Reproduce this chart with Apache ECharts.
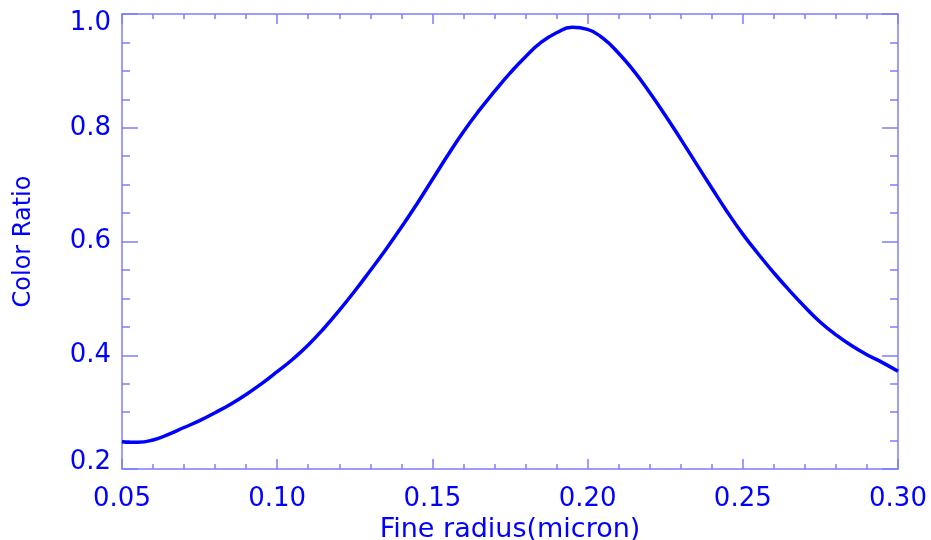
<!DOCTYPE html>
<html>
<head>
<meta charset="utf-8">
<script src="https://cdn.jsdelivr.net/npm/echarts@6/dist/echarts.min.js"></script>
<style>
html,body{margin:0;padding:0;background:#fff;}
#chart{width:931px;height:540px;}
</style>
</head>
<body>
<div id="chart"></div>
<script>
// Fine radius (micron)
var radius = [0.050,0.053,0.055,0.060,0.065,0.070,0.075,0.080,0.085,0.090,0.095,0.100,0.105,0.110,0.115,0.120,0.125,0.130,0.135,0.140,0.145,0.150,0.155,0.160,0.165,0.170,0.175,0.180,0.185,0.190,0.195,0.200,0.205,0.210,0.215,0.220,0.225,0.230,0.235,0.240,0.245,0.250,0.255,0.260,0.265,0.270,0.275,0.280,0.285,0.290,0.295,0.300];
// Color ratio
var colorRatio = [0.248,0.247,0.247,0.251,0.261,0.273,0.285,0.299,0.314,0.331,0.350,0.371,0.393,0.418,0.447,0.479,0.513,0.549,0.586,0.625,0.666,0.709,0.752,0.793,0.830,0.864,0.896,0.925,0.950,0.967,0.9766,0.973,0.957,0.931,0.899,0.862,0.822,0.780,0.737,0.694,0.652,0.613,0.578,0.545,0.514,0.485,0.458,0.436,0.417,0.401,0.387,0.372];
var xTicks = {min:0.05, max:0.30, interval:0.05};
var yTicks = {min:0.2, max:1.0, interval:0.2};
var xName = 'Fine radius(micron)';
var yName = 'Color Ratio';

var axisColor = '#7e7eff';
var textColor = '#0000ff';
var font = 'DejaVu Sans';

var data = radius.map(function(r,i){return [r, colorRatio[i]];});

function xAx(pos, show){
  return {
    type:'value', position:pos, min:xTicks.min, max:xTicks.max, interval:xTicks.interval,
    name: show ? xName : '', nameLocation:'middle', nameGap:40,
    nameTextStyle:{color:textColor, fontFamily:font, fontSize:27},
    axisLine:{show:true, onZero:false, lineStyle:{color:axisColor, width:1.5}},
    axisTick:{show:true, inside:true, length:10, lineStyle:{color:axisColor, width:1.5}},
    minorTick:{show:true, splitNumber:5, length:5, lineStyle:{color:axisColor, width:1.5}},
    axisLabel:{show:show, color:textColor, fontFamily:font, fontSize:26, margin:17,
      formatter:function(v){return v.toFixed(2);}},
    splitLine:{show:false}, minorSplitLine:{show:false}
  };
}
function yAx(pos, show){
  return {
    type:'value', position:pos, min:yTicks.min, max:yTicks.max, interval:yTicks.interval,
    name: show ? yName : '', nameLocation:'middle', nameGap:86,
    nameTextStyle:{color:textColor, fontFamily:font, fontSize:24},
    axisLine:{show:true, onZero:false, lineStyle:{color:axisColor, width:1.5}},
    axisTick:{show:true, inside:true, length:16, lineStyle:{color:axisColor, width:1.5}},
    minorTick:{show:true, splitNumber:4, length:8, lineStyle:{color:axisColor, width:1.5}},
    axisLabel:{show:show, color:textColor, fontFamily:font, fontSize:26, margin:11,
      formatter:function(v){
        var s = v.toFixed(1);
        if (Math.abs(v - yTicks.max) < 1e-9) return '{top|' + s + '}';
        if (Math.abs(v - yTicks.min) < 1e-9) return '{bot|' + s + '}';
        return s;
      },
      rich:{
        top:{color:textColor, fontFamily:font, fontSize:26, padding:[18,0,0,0]},
        bot:{color:textColor, fontFamily:font, fontSize:26, padding:[0,0,14,0]}
      }},
    splitLine:{show:false}, minorSplitLine:{show:false}
  };
}

var chart = echarts.init(document.getElementById('chart'), null, {renderer:'canvas'});
chart.setOption({
  backgroundColor:'#ffffff',
  animation:false,
  grid:{left:122, right:33, top:14, bottom:71, containLabel:false, outerBoundsMode:'none'},
  xAxis:[xAx('bottom', true), xAx('top', false)],
  yAxis:[yAx('left', true), yAx('right', false)],
  series:[{
    type:'line', xAxisIndex:0, yAxisIndex:0, data:data, smooth:0.5, showSymbol:false,
    lineStyle:{color:'#0000ff', width:3.5}
  }]
});
</script>
</body>
</html>
